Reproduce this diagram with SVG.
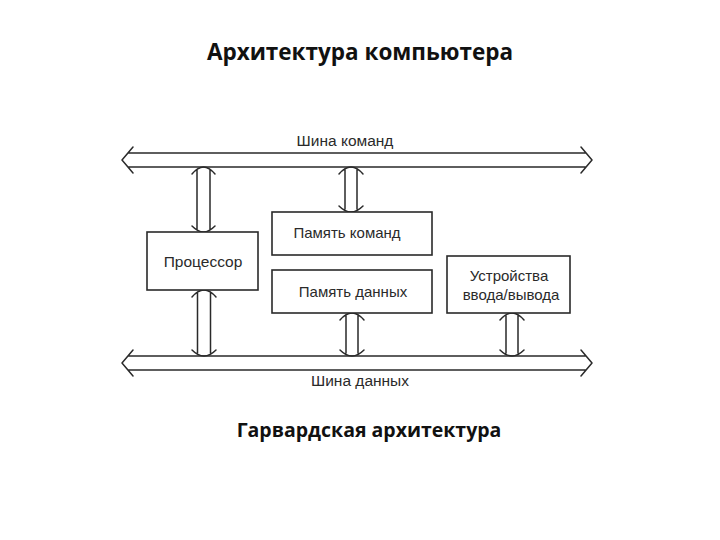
<svg xmlns="http://www.w3.org/2000/svg" width="720" height="540" viewBox="0 0 720 540">
<style>
.bg{fill:#ffffff}
.box{fill:#ffffff;stroke:#2a2a2a;stroke-width:1.6}
.ln{fill:none;stroke:#2a2a2a;stroke-width:1.5;stroke-linejoin:round;stroke-linecap:round}
.lbl{font-family:"Liberation Sans",Arial,sans-serif;font-size:15px;fill:#2a2a2a;text-anchor:middle}
.bus{font-size:15.5px}
.ttl{font-family:"Open Sans","DejaVu Sans",sans-serif;font-weight:bold;fill:#111;text-anchor:middle}
</style>
<rect class="bg" x="0" y="0" width="720" height="540"/>
<text class="ttl" x="360" y="60" style="font-size:22.5px">Архитектура компьютера</text>
<text class="ttl" x="369" y="437" style="font-size:19.5px">Гарвардская архитектура</text>

<g id="connectors">
  <g id="bus-commands">
    <path class="ln" d="M133,147 L122,160 L133,173 M128,153 L586,153 M128,167 L586,167 M581,147 L592,160 L581,173"/>
  </g>
  <g id="bus-data">
    <path class="ln" d="M133,350 L122,363 L133,376 M128,356 L586,356 M128,370 L586,370 M581,350 L592,363 L581,376"/>
  </g>
  <g id="arrow-cpu-cmd">
    <path class="ln" d="M192,174 Q198,167 203.5,167 Q209,167 215,174 M197,170 L197,229 M210,170 L210,229 M192,226 Q198,232 203.5,232 Q209,232 215,226"/>
  </g>
  <g id="arrow-cpu-data">
    <path class="ln" d="M192,297 Q198,290 204,290 Q210,290 216,297 M197.5,293 L197.5,353 M210.5,293 L210.5,353 M192,350 Q198,356 204,356 Q210,356 216,350"/>
  </g>
  <g id="arrow-memcmd">
    <path class="ln" d="M339,174 Q345,167 351,167 Q357,167 363,174 M345,170 L345,209 M357,170 L357,209 M339,206 Q345,212 351,212 Q357,212 363,206"/>
  </g>
  <g id="arrow-memdata">
    <path class="ln" d="M340,320 Q346,313 352,313 Q358,313 364,320 M346,316 L346,353 M358,316 L358,353 M340,350 Q346,356 352,356 Q358,356 364,350"/>
  </g>
  <g id="arrow-io">
    <path class="ln" d="M500,320 Q506,313 512,313 Q518,313 524,320 M506,316 L506,353 M518,316 L518,353 M500,350 Q506,356 512,356 Q518,356 524,350"/>
  </g>
</g>

<text class="lbl bus" x="345" y="146">Шина команд</text>
<text class="lbl bus" x="360" y="386">Шина данных</text>

<g id="cpu">
  <rect class="box" x="147" y="232" width="111" height="58"/>
  <text class="lbl" x="203" y="267" style="font-size:15.5px">Процессор</text>
</g>
<g id="mem-cmd">
  <rect class="box" x="272" y="212" width="160" height="43"/>
  <text class="lbl" x="347" y="238">Память команд</text>
</g>
<g id="mem-data">
  <rect class="box" x="272" y="270" width="160" height="43"/>
  <text class="lbl" x="353" y="297">Память данных</text>
</g>
<g id="io">
  <rect class="box" x="447" y="256" width="123" height="57"/>
  <text class="lbl" x="509" y="281">Устройства</text>
  <text class="lbl" x="511" y="300">ввода/вывода</text>
</g>
</svg>
